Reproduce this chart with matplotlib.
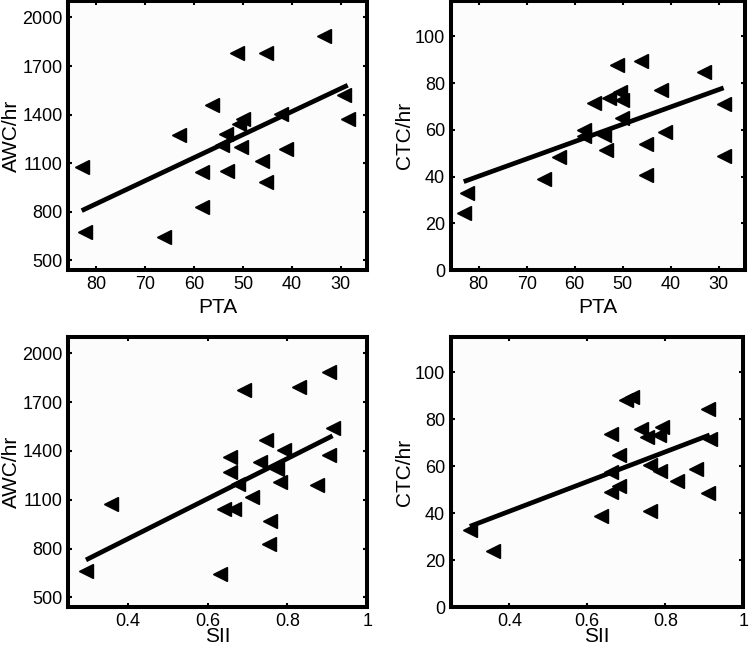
import matplotlib.pyplot as plt
import numpy as np

plt.rcParams['font.family'] = ['Liberation Sans', 'DejaVu Sans']

# PTA vs AWC/hr
pta_awc = [83.0, 82.3, 66.2, 63.1, 58.3, 58.3, 56.3, 54.3, 53.4, 53.2, 51.2,
           50.8, 50.1, 50.4, 46.1, 45.4, 45.4, 42.3, 41.3, 33.4, 29.3, 28.6]
awc_pta = [1075, 677, 647, 1273, 1045, 830, 1457, 1215, 1280, 1055, 1780,
           1341, 1371, 1198, 1116, 1780, 984, 1402, 1188, 1886, 1524, 1371]

# PTA vs CTC/hr
pta_ctc = [83.1, 82.4, 66.3, 63.2, 58.1, 58.1, 56.0, 54.0, 53.4, 52.9, 51.2,
           50.5, 50.2, 50.2, 46.1, 45.1, 45.1, 42.0, 41.3, 33.1, 29.0, 29.0]
ctc_pta = [24.3, 33.1, 38.9, 48.6, 60.0, 57.4, 71.4, 57.9, 51.4, 73.6, 87.9,
           76.4, 72.9, 65.0, 89.3, 54.0, 40.7, 77.1, 58.9, 84.6, 71.1, 48.9]

# SII vs AWC/hr
sii_awc = [0.295, 0.358, 0.631, 0.640, 0.665, 0.656, 0.656, 0.677, 0.690, 0.711, 0.732,
           0.745, 0.757, 0.753, 0.774, 0.782, 0.791, 0.829, 0.875, 0.904, 0.913, 0.904]
awc_sii = [664, 1075, 644, 1044, 1044, 1363, 1270, 1198, 1774, 1116, 1332,
           1466, 972, 829, 1291, 1209, 1404, 1795, 1188, 1887, 1538, 1373]

# SII vs CTC/hr
sii_ctc = [0.299, 0.358, 0.636, 0.661, 0.682, 0.661, 0.661, 0.682, 0.699, 0.716, 0.737,
           0.754, 0.783, 0.792, 0.762, 0.787, 0.762, 0.829, 0.880, 0.909, 0.914, 0.909]
ctc_sii = [32.9, 23.9, 38.9, 73.9, 64.6, 57.4, 48.9, 51.7, 88.1, 89.6, 76.0,
           72.4, 73.1, 76.7, 60.3, 58.1, 41.0, 53.9, 59.0, 84.3, 71.4, 48.6]

awc_ticks = [500, 800, 1100, 1400, 1700, 2000]
ctc_ticks = [0, 20, 40, 60, 80, 100]
pta_ticks = [30, 40, 50, 60, 70, 80]
sii_ticks = [0.4, 0.6, 0.8, 1]

fig = plt.figure(figsize=(7.5, 6.48), dpi=100)

panels = [
    # rect, x, y, xlabel, ylabel, xlim, ylim, xticks, yticks, xlabel pad
    ([0.0907, 0.583, 0.399, 0.415], pta_awc, awc_pta, 'PTA', 'AWC/hr',
     (85.8, 24.6), (440, 2100), pta_ticks, awc_ticks, 4),
    ([0.601, 0.583, 0.392, 0.415], pta_ctc, ctc_pta, 'PTA', 'CTC/hr',
     (85.8, 24.6), (0, 115), pta_ticks, ctc_ticks, 4),
    ([0.0907, 0.063, 0.399, 0.417], sii_awc, awc_sii, 'SII', 'AWC/hr',
     (0.25, 1.0), (440, 2100), sii_ticks, awc_ticks, -2),
    ([0.601, 0.063, 0.39, 0.417], sii_ctc, ctc_sii, 'SII', 'CTC/hr',
     (0.25, 1.0), (0, 115), sii_ticks, ctc_ticks, -2),
]

for rect, x, y, xl, yl, xlim, ylim, xt, yt, xpad in panels:
    ax = fig.add_axes(rect)
    ax.set_facecolor('#fcfcfc')
    x = np.array(x)
    y = np.array(y)

    # least squares fit line over the data range
    k, b = np.polyfit(x, y, 1)
    xf = np.array([x.min(), x.max()])
    ax.plot(xf, k * xf + b, color='black', lw=3.4, solid_capstyle='butt', zorder=2)
    ax.plot(x, y, linestyle='none', marker='<', ms=10, color='black', zorder=3)

    ax.set_xlim(xlim)
    ax.set_ylim(ylim)
    ax.set_xticks(xt)
    ax.set_xticklabels([('%g' % v) for v in xt])
    ax.set_yticks(yt)
    ax.set_xlabel(xl, fontsize=15, labelpad=xpad)
    ax.set_ylabel(yl, fontsize=15, labelpad=1)
    ax.tick_params(direction='in', length=3, width=1.5, labelsize=13,
                   top=True, right=True, pad=4)
    for s in ax.spines.values():
        s.set_linewidth(2.9)

fig.savefig('out.png', dpi=100)
